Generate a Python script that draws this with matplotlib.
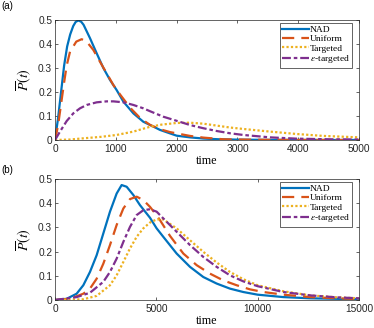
import matplotlib
matplotlib.use("Agg")
import matplotlib.pyplot as plt

plt.rcParams['mathtext.fontset'] = 'stix'

# ---------------- data: panel (a) ----------------
ta_nad = [0, 50, 100, 150, 200, 250, 300, 340, 383, 430, 470, 576, 686, 795, 905, 1014, 1124, 1289, 1453,
          1617, 1727, 2000, 2220, 2440, 2700, 3000, 3500, 4000, 5000]
pa_nad = [0, 0.09, 0.2, 0.31, 0.39, 0.44, 0.475, 0.492, 0.498, 0.493, 0.48, 0.424, 0.361, 0.3, 0.25, 0.208,
          0.16, 0.111, 0.076, 0.056, 0.042, 0.018, 0.011, 0.006, 0.003, 0.0015, 0.0005, 0.0002, 0]

ta_uni = [0, 50, 100, 150, 192, 247, 301, 350, 438, 521, 631, 740, 850, 960, 1069, 1234, 1398, 1562, 1727,
          1891, 2220, 2440, 2769, 3000, 3500, 4000, 5000]
pa_uni = [0, 0.06, 0.15, 0.24, 0.31, 0.368, 0.39, 0.41, 0.42, 0.41, 0.375, 0.326, 0.278, 0.229, 0.19, 0.135,
          0.092, 0.063, 0.045, 0.033, 0.017, 0.01, 0.003, 0.002, 0.0008, 0.0003, 0]

ta_tar = [0, 250, 466, 750, 1014, 1289, 1562, 1750, 2000, 2220, 2440, 2659, 2878, 3097, 3536, 3975, 4414, 5000]
pa_tar = [0, 0.002, 0.007, 0.013, 0.021, 0.035, 0.055, 0.064, 0.071, 0.072, 0.068, 0.06, 0.052, 0.046,
          0.035, 0.025, 0.017, 0.011]

ta_eps = [0, 82, 192, 301, 411, 521, 686, 850, 960, 1124, 1289, 1453, 1562, 1782, 2000, 2220, 2440, 2659,
          2878, 3097, 3536, 3975, 4500, 5000]
pa_eps = [0, 0.035, 0.079, 0.111, 0.132, 0.146, 0.157, 0.161, 0.161, 0.157, 0.146, 0.132, 0.12, 0.097,
          0.08, 0.0625, 0.049, 0.0375, 0.028, 0.021, 0.011, 0.0056, 0.003, 0.002]

# ---------------- data: panel (b) ----------------
tb_nad = [0, 575, 1068, 1397, 1726, 2055, 2384, 2713, 3042, 3288, 3535, 3864, 4193, 4686, 5015, 5344, 6002,
          6660, 7317, 7975, 8633, 9291, 10000, 11270, 12600, 15000]
pb_nad = [0, 0.005, 0.026, 0.061, 0.116, 0.185, 0.275, 0.365, 0.44, 0.475, 0.468, 0.434, 0.392, 0.34,
          0.296, 0.261, 0.192, 0.137, 0.095, 0.068, 0.047, 0.033, 0.022, 0.012, 0.007, 0.003]

tb_uni = [0, 740, 1397, 1726, 2055, 2384, 2713, 3042, 3371, 3700, 4029, 4357, 4686, 5015, 5180, 5673, 6331,
          6989, 7646, 8304, 8962, 9620, 10280, 11270, 12600, 13900, 15000]
pb_uni = [0, 0.005, 0.026, 0.047, 0.088, 0.15, 0.227, 0.31, 0.378, 0.417, 0.427, 0.413, 0.385, 0.35, 0.33,
          0.265, 0.192, 0.144, 0.109, 0.081, 0.061, 0.044, 0.033, 0.022, 0.012, 0.007, 0.004]

tb_tar = [0, 1397, 2055, 2713, 3042, 3371, 3700, 4029, 4357, 4686, 5015, 5344, 6002, 6660, 7317, 7975,
          8633, 9291, 10000, 11270, 12600, 13900, 15000]
pb_tar = [0, 0.003, 0.017, 0.061, 0.102, 0.157, 0.213, 0.261, 0.296, 0.32, 0.333, 0.333, 0.296, 0.247,
          0.199, 0.155, 0.116, 0.086, 0.061, 0.036, 0.019, 0.011, 0.007]

tb_eps = [0, 1068, 1726, 2384, 2713, 3042, 3371, 3700, 4029, 4357, 4686, 5015, 5344, 6002, 6660, 7317,
          7975, 8633, 9291, 10000, 11270, 12600, 13900, 15000]
pb_eps = [0, 0.012, 0.03, 0.075, 0.116, 0.171, 0.24, 0.302, 0.351, 0.371, 0.375, 0.365, 0.337, 0.282,
          0.227, 0.178, 0.137, 0.102, 0.077, 0.057, 0.033, 0.019, 0.011, 0.007]

labels = ['NAD', 'Uniform', 'Targeted', r'$\varepsilon$-targeted']
colors = ['#0072BD', '#D95319', '#EDB120', '#7E2F8E']
styles = ['-', (0, (5.5, 3.2)), (0, (1, 1)), (0, (4, 1.3, 1.6, 1.3))]

yticks = [0, 0.1, 0.2, 0.3, 0.4, 0.5]
ytick_labels = ['0', '0.1', '0.2', '0.3', '0.4', '0.5']
xticks_a = [0, 1000, 2000, 3000, 4000, 5000]
xticks_b = [0, 5000, 10000, 15000]

W, H = 374, 328
fig = plt.figure(figsize=(W / 100, H / 100), dpi=100)

SANS = ['Liberation Sans', 'DejaVu Sans']
SERIF = ['Liberation Serif', 'DejaVu Serif']


def make_ax(top, bottom, series, xticks, xmax, tag, tag_y):
    ax = fig.add_axes([55 / W, 1 - bottom / H, 304 / W, (bottom - top) / H])
    for (t, p), lab, c, ls in zip(series, labels, colors, styles):
        ax.plot(t, p, color=c, ls=ls, lw=1.6, label=lab)
    ax.set_xlim(0, xmax)
    ax.set_ylim(0, 0.5)
    ax.set_xticks(xticks)
    ax.set_xticklabels([str(v) for v in xticks], family=SANS, fontsize=7.3)
    ax.set_yticks(yticks)
    ax.set_yticklabels(ytick_labels, family=SANS, fontsize=7.3)
    ax.tick_params(direction='in', top=True, right=True, length=2.5, width=0.5,
                   colors='#262626', pad=2)
    ax.tick_params(axis='x', pad=3)
    for s in ax.spines.values():
        s.set_linewidth(0.5)
        s.set_color('#262626')
    ax.set_xlabel('time', family=SERIF, fontsize=8.7, labelpad=0.5)
    ax.set_ylabel(r'$\overline{P}(t)$', fontsize=10, labelpad=4)
    leg = ax.legend(loc='upper right', bbox_to_anchor=(0.978, 0.975), prop={'family': SERIF, 'size': 6.8},
                    frameon=True, fancybox=False, edgecolor='#262626', framealpha=1,
                    handlelength=2.8, handletextpad=0.15, labelspacing=0.08, borderpad=0.25,
                    borderaxespad=0)
    leg.get_frame().set_linewidth(0.5)
    fig.text(1 / W, 1 - tag_y / H, tag, family=SANS, fontsize=7, va='center', ha='left')
    return ax


make_ax(20, 140, [(ta_nad, pa_nad), (ta_uni, pa_uni), (ta_tar, pa_tar), (ta_eps, pa_eps)],
        xticks_a, 5000, '(a)', 6)
make_ax(179, 300, [(tb_nad, pb_nad), (tb_uni, pb_uni), (tb_tar, pb_tar), (tb_eps, pb_eps)],
        xticks_b, 15000, '(b)', 170)

fig.savefig('out.png', dpi=100)
